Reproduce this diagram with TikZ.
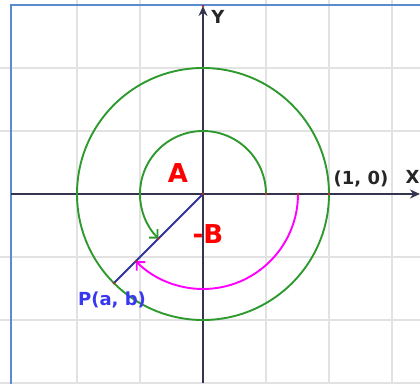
\documentclass[tikz,border=0pt]{standalone}
\usepackage{fontspec}
\setmainfont{DejaVu Sans}
\usetikzlibrary{arrows.meta}
\definecolor{gridgray}{HTML}{E2E2E2}
\definecolor{axiscol}{HTML}{34344F}
\definecolor{circgreen}{HTML}{2E9A2E}
\definecolor{framecol}{HTML}{5A8AD0}
\definecolor{rayblue}{HTML}{33339E}
\definecolor{labelblue}{HTML}{3838F0}
\definecolor{dotred}{HTML}{B03020}
\definecolor{magcol}{HTML}{FF00FF}
\begin{document}
\begin{tikzpicture}[x=1pt,y=1pt,
  gridline/.style={gridgray, line width=1.3pt},
  frameline/.style={framecol, line width=1.4pt},
  axisline/.style={axiscol, line width=2pt, -{Stealth[length=10pt,width=9pt]}},
  circline/.style={circgreen, line width=1.9pt},
  magline/.style={magcol, line width=1.9pt},
  barb/.style={-{Straight Barb[length=6pt,width=12pt]}},
  rayline/.style={rayblue, line width=1.8pt},
  biglbl/.style={red, font=\bfseries\fontsize{26}{26}\selectfont, inner sep=0pt},
  lbl/.style={font=\bfseries\fontsize{18}{18}\selectfont, inner sep=0pt},
  dot/.style={dotred},
]
\useasboundingbox (0,0) rectangle (420,383);
\clip (0,0) rectangle (420,383);
% grid
\foreach \gx in {77,140,266,329,392} \draw[gridline] (\gx,0) -- (\gx,383);
\foreach \gy in {0,63,126,252,315} \draw[gridline] (0,\gy) -- (420,\gy);
% frame
\draw[frameline] (11,-5) -- (11,378) -- (430,378);
% points
\coordinate (O) at (203,189);
\coordinate (XL) at (11,189);
\coordinate (XR) at (420,189);
\coordinate (YB) at (203,0);
\coordinate (YT) at (203,377);
\path (O) ++(225:126) coordinate (P);
\path (O) ++(225:63) coordinate (Pin);
\path (O) ++(225:95) coordinate (Pmag);
% labels behind axes
\node[lbl, text=black!85] (labX) at (412.5,206) {X};
% axes
\draw[axisline] (XL) -- (XR);
\draw[axisline] (YB) -- (YT);
% circles
\draw[circline] (O) circle[radius=126];
\draw[circline, barb] (O) ++(63,0) coordinate (Ain) arc[start angle=0, end angle=225, radius=63];
\draw[magline, barb] (O) ++(95,0) coordinate (Amag) arc[start angle=0, end angle=-135, radius=95];
% ray
\draw[rayline] (O) -- (P);
% dots
\foreach \pt in {O,P,Pin,Pmag,Ain,Amag,YT} \fill[dot] (\pt) circle[radius=1.3];
\path (O) ++(126,0) coordinate (Aout);
\fill[dot] (Aout) circle[radius=1.3];
% labels
\node[biglbl] (labA) at (178,210) {A};
\node[biglbl] (labB) at (208,149) {-B};
\node[lbl, text=black!85] (lab10) at (361,204) {(1, 0)};
\node[lbl, text=labelblue] (labP) at (112,83) {P(a, b)};
\node[lbl, text=black!85] (labY) at (218,366) {Y};
\end{tikzpicture}
\end{document}
